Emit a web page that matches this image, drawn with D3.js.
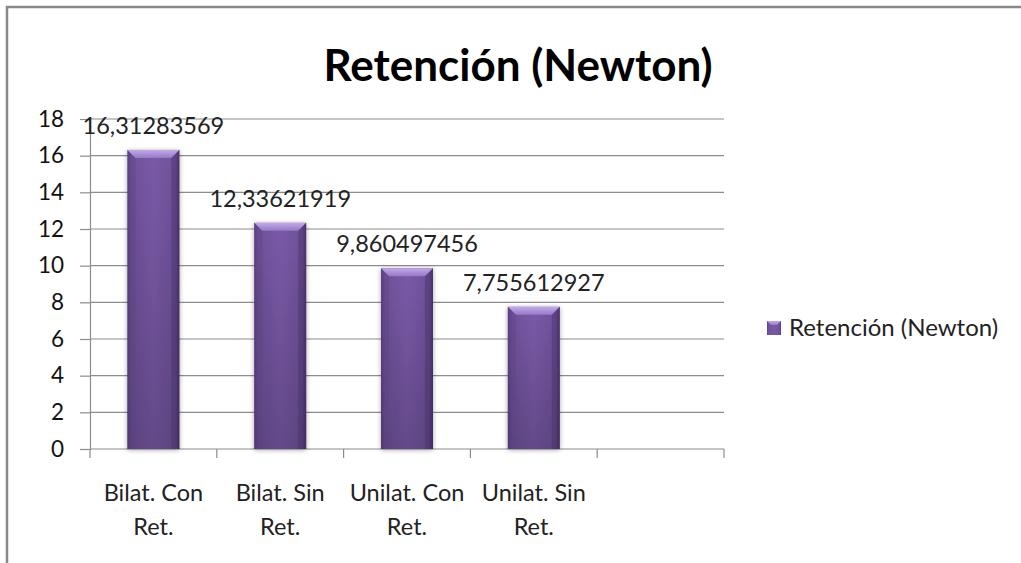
<!DOCTYPE html>
<html><head><meta charset="utf-8">
<script src="https://cdn.jsdelivr.net/npm/d3@7"></script>
<style>
html,body{margin:0;padding:0;background:#fff;}
text{font-family:Lato,"Open Sans",sans-serif;}
</style></head>
<body>
<svg id="chart" width="1021" height="563"></svg>
<script>
const title = "Retención (Newton)";
const seriesName = "Retención (Newton)";
const categories = [["Bilat. Con","Ret."],["Bilat. Sin","Ret."],["Unilat. Con","Ret."],["Unilat. Sin","Ret."],[""]];
const values = [16.31283569, 12.33621919, 9.860497456, 7.755612927];
const labels = ["16,31283569","12,33621919","9,860497456","7,755612927"];
const yTicks = [0,2,4,6,8,10,12,14,16,18];

const svg = d3.select("#chart");
const W = 1021, H = 563;
const m = {left:90, right:297, top:119, bottom:114};
const x = d3.scaleBand().domain(d3.range(categories.length)).range([m.left, W - m.right]).padding(0);
const y = d3.scaleLinear().domain([0,18]).range([H - m.bottom, m.top]);

// frame
svg.append("path").attr("d", `M7,${H} V7 H${W}`).attr("fill","none").attr("stroke","#8a8a8a").attr("stroke-width",2.5);

const defs = svg.append("defs");
const gH = defs.append("linearGradient").attr("id","barH").attr("x1",0).attr("x2",1).attr("y1",0).attr("y2",0);
[[0,"#5a3f80"],[0.08,"#6e519a"],[0.5,"#7a5aa8"],[0.92,"#6e519a"],[1,"#4f3672"]].forEach(([o,c])=>gH.append("stop").attr("offset",o).attr("stop-color",c));
const gV = defs.append("linearGradient").attr("id","barV").attr("x1",0).attr("x2",0).attr("y1",0).attr("y2",1);
gV.append("stop").attr("offset",0).attr("stop-color","#000").attr("stop-opacity",0);
gV.append("stop").attr("offset",1).attr("stop-color","#000").attr("stop-opacity",0.18);
const gT = defs.append("linearGradient").attr("id","barT").attr("x1",0).attr("x2",0).attr("y1",0).attr("y2",1);
gT.append("stop").attr("offset",0).attr("stop-color","#c2a9ea");
gT.append("stop").attr("offset",1).attr("stop-color","#9679c6");
const flt = defs.append("filter").attr("id","shadow").attr("x","-30%").attr("y","-10%").attr("width","160%").attr("height","130%");
flt.append("feGaussianBlur").attr("in","SourceAlpha").attr("stdDeviation",2.5);
flt.append("feOffset").attr("dx",0).attr("dy",1).attr("result","b");
flt.append("feComponentTransfer").append("feFuncA").attr("type","linear").attr("slope",0.35);
const fm = flt.append("feMerge"); fm.append("feMergeNode"); fm.append("feMergeNode").attr("in","SourceGraphic");

// gridlines
svg.append("g").selectAll("line").data(yTicks.filter(d=>d>0)).join("line")
  .attr("x1", m.left).attr("x2", W - m.right).attr("y1", d=>y(d)).attr("y2", d=>y(d))
  .attr("stroke","#8c8c8c").attr("stroke-width",1.2);

// y axis
const yAxis = svg.append("g").attr("transform",`translate(${m.left},0)`)
  .call(d3.axisLeft(y).tickValues(yTicks).tickSize(10).tickPadding(16).tickFormat(d3.format("d")));
yAxis.select(".domain").attr("stroke","#8c8c8c").attr("stroke-width",1.2);
yAxis.selectAll(".tick line").attr("stroke","#8c8c8c").attr("stroke-width",1.2);
yAxis.selectAll("text").attr("font-size",22.5).attr("fill","#111").attr("font-family","Lato");

// x axis
svg.append("line").attr("x1",m.left).attr("x2",W-m.right).attr("y1",y(0)).attr("y2",y(0)).attr("stroke","#8c8c8c").attr("stroke-width",1.2);
const bounds = d3.range(categories.length+1).map(i => i < categories.length ? x(i) : x(categories.length-1)+x.bandwidth());
svg.append("g").selectAll("line").data(bounds).join("line")
  .attr("x1",d=>d).attr("x2",d=>d).attr("y1",y(0)).attr("y2",y(0)+9).attr("stroke","#8c8c8c").attr("stroke-width",1.2);

const catG = svg.append("g").selectAll("text").data(categories).join("text")
  .attr("x",(d,i)=>x(i)+x.bandwidth()/2).attr("y",y(0)+52)
  .attr("text-anchor","middle").attr("font-size",23.5).attr("fill","#222");
catG.selectAll("tspan").data(d=>d).join("tspan")
  .attr("x",function(){return this.parentNode.getAttribute("x");})
  .attr("dy",(d,i)=>i===0?0:34).text(d=>d);

// bars
const bw = x.bandwidth()*0.41;
const bars = svg.append("g").selectAll("g").data(values).join("g").attr("filter","url(#shadow)");
bars.append("rect").attr("x",(d,i)=>x(i)+x.bandwidth()/2-bw/2).attr("y",d=>y(d)).attr("width",bw).attr("height",d=>y(0)-y(d)).attr("fill","url(#barH)");
bars.append("rect").attr("x",(d,i)=>x(i)+x.bandwidth()/2-bw/2).attr("y",d=>y(d)).attr("width",bw).attr("height",d=>y(0)-y(d)).attr("fill","url(#barV)");
const bev = 8;
bars.append("path").attr("d",(d,i)=>{
  const x0 = x(i)+x.bandwidth()/2-bw/2, x1 = x0+bw, t = y(d);
  return `M${x0},${t} H${x1} L${x1-bev},${t+bev} H${x0+bev} Z`;
}).attr("fill","url(#barT)");
bars.append("path").attr("d",(d,i)=>{
  const x0 = x(i)+x.bandwidth()/2-bw/2, x1 = x0+bw, t = y(d);
  return `M${x0},${t} L${x0+bev},${t+bev} V${y(0)} H${x0} Z`;
}).attr("fill","#5b4182").attr("opacity",0.35);
bars.append("path").attr("d",(d,i)=>{
  const x0 = x(i)+x.bandwidth()/2-bw/2, x1 = x0+bw, t = y(d);
  return `M${x1},${t} L${x1-bev},${t+bev} V${y(0)} H${x1} Z`;
}).attr("fill","#3e2a5c").attr("opacity",0.35);

// data labels
svg.append("g").selectAll("text").data(values).join("text")
  .attr("x",(d,i)=>x(i)+x.bandwidth()/2).attr("y",d=>y(d)-16)
  .attr("text-anchor","middle").attr("font-size",23.5).attr("fill","#222")
  .text((d,i)=>labels[i]);

// title
svg.append("text").attr("x",518).attr("y",81).attr("text-anchor","middle")
  .attr("font-size",44).attr("font-weight","bold").attr("fill","#000").text(title);

// legend
const lg = svg.append("g").attr("transform","translate(767,321)");
lg.append("rect").attr("width",14).attr("height",14).attr("fill","url(#barH)");
lg.append("path").attr("d","M0,0 H14 L10,4 H4 Z").attr("fill","url(#barT)");
lg.append("text").attr("x",22).attr("y",7).attr("dy","0.35em").attr("font-size",24).attr("fill","#222").text(seriesName);
</script>
</body></html>
